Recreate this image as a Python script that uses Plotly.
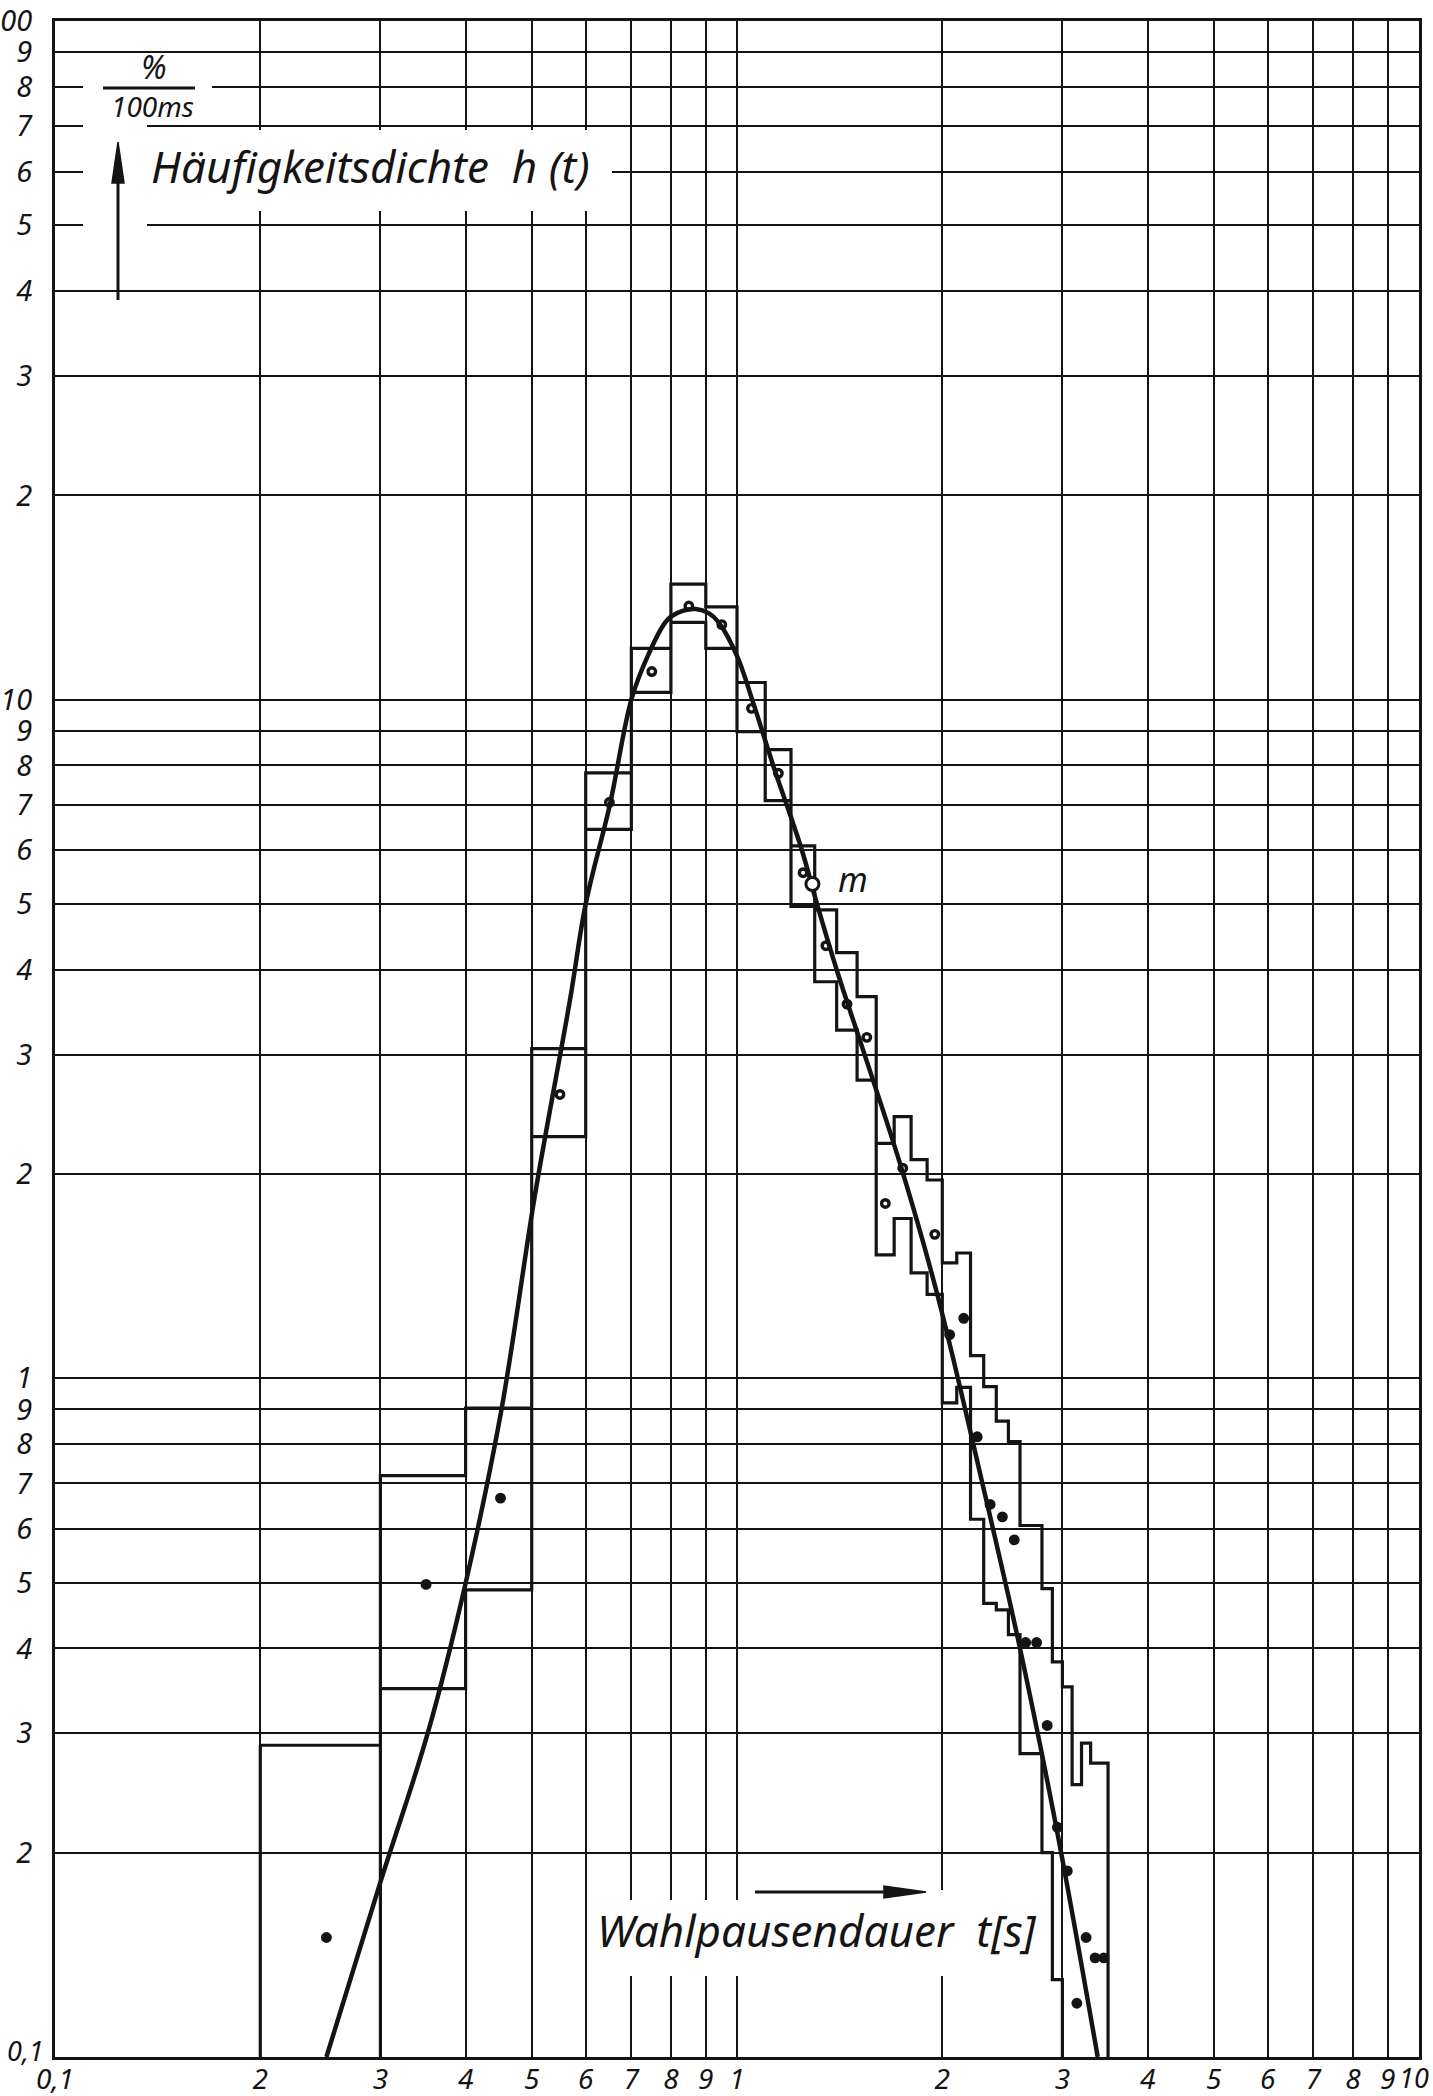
import plotly.graph_objects as go

# ---------------------------------------------------------------------------
# Data: dialling-pause durations t [s], frequency density h(t) [% / 100 ms]
# ---------------------------------------------------------------------------

# 100 ms classes: left edge of each class (s)
bin_left = [0.2, 0.3, 0.4, 0.5, 0.6, 0.7, 0.8, 0.9, 1.0, 1.1, 1.2, 1.3, 1.4,
            1.5, 1.6, 1.7, 1.8, 1.9, 2.0, 2.1, 2.2, 2.3, 2.4, 2.5, 2.6, 2.7,
            2.8, 2.9, 3.0, 3.1, 3.2, 3.3, 3.4]
bin_width = 0.1

# upper and lower limits of each class (lower limits of the outermost
# classes lie below the 0.1 floor of the chart)
bin_upper = [0.288, 0.719, 0.904, 3.06, 7.80, 11.9, 14.8, 13.7, 10.6, 8.44,
             6.09, 4.90, 4.24, 3.65, 2.22, 2.43, 2.10, 1.96, 1.48, 1.53,
             1.08, 0.972, 0.865, 0.807, 0.607, 0.607, 0.49, 0.382, 0.351,
             0.252, 0.29, 0.271, 0.271]
bin_lower = [0.05, 0.349, 0.488, 2.27, 6.44, 10.25, 13.0, 11.9, 8.97, 7.10,
             4.96, 3.84, 3.26, 2.75, 1.52, 1.72, 1.43, 1.33, 0.92, 0.97,
             0.62, 0.466, 0.456, 0.419, 0.28, 0.28, 0.20, 0.13, 0.05,
             0.05, 0.05, 0.05, 0.05]

# measured values at the class centres
dot_t = [0.25, 0.35, 0.45, 0.55, 0.65, 0.75, 0.85, 0.95, 1.05, 1.15, 1.25,
         1.35, 1.45, 1.55, 1.65, 1.75, 1.95, 2.05, 2.15, 2.25, 2.35, 2.45,
         2.55, 2.65, 2.75, 2.85, 2.95, 3.05, 3.15, 3.25, 3.35, 3.45]
dot_h = [0.150, 0.497, 0.666, 2.62, 7.06, 11.0, 13.74, 12.9, 9.71, 7.79,
         5.56, 4.34, 3.56, 3.18, 1.81, 2.04, 1.63, 1.16, 1.226, 0.82,
         0.652, 0.625, 0.578, 0.408, 0.408, 0.308, 0.218, 0.188, 0.120,
         0.150, 0.140, 0.140]

# fitted density curve
curve_t = [0.25, 0.30, 0.352, 0.40, 0.451, 0.506, 0.569, 0.60, 0.651,
           0.70, 0.74, 0.79, 0.83, 0.87, 0.91, 0.94, 1.0, 1.056, 1.13,
           1.245, 1.31, 1.40, 1.53, 1.745, 1.97, 2.29, 2.60, 2.96, 3.38]
curve_h = [0.1, 0.181, 0.30, 0.499, 0.894, 1.873, 3.61, 5.0, 7.0,
           10.0, 11.6, 13.1, 13.5, 13.6, 13.4, 13.0, 11.6, 9.9, 8.0,
           6.0, 5.0, 4.0, 3.05, 2.03, 1.32, 0.70, 0.40, 0.21, 0.10]

# mean value m
mean_t = [1.29]
mean_h = [5.35]

# log-paper rulings and their labels (the corner labels 0,1 of the ordinate
# and 10 of the abscissa are lettered separately to stay inside the sheet)
x_grid = [0.1, 0.2, 0.3, 0.4, 0.5, 0.6, 0.7, 0.8, 0.9,
          1, 2, 3, 4, 5, 6, 7, 8, 9, 10]
x_labels = ["0,1", "2", "3", "4", "5", "6", "7", "8", "9",
            "1", "2", "3", "4", "5", "6", "7", "8", "9", ""]
y_grid = [0.1, 0.2, 0.3, 0.4, 0.5, 0.6, 0.7, 0.8, 0.9,
          1, 2, 3, 4, 5, 6, 7, 8, 9,
          10, 20, 30, 40, 50, 60, 70, 80, 90, 100]
y_labels = ["", "2", "3", "4", "5", "6", "7", "8", "9",
            "1", "2", "3", "4", "5", "6", "7", "8", "9",
            "10", "2", "3", "4", "5", "6", "7", "8", "9", "100"]

# ---------------------------------------------------------------------------
INK = "#141414"
FONT = "Noto Sans"
W, H = 1433, 2096
L, R, T, B = 55, 14, 21, 39


def fx(px):
    """pixel column -> paper x"""
    return (px - L) / (W - L - R)


def fy(py):
    """pixel row -> paper y"""
    return (H - B - py) / (H - T - B)


# band outline: upper staircase left to right, lower staircase back
band_x, band_y = [], []
for left, hi in zip(bin_left, bin_upper):
    band_x += [left, left + bin_width]
    band_y += [hi, hi]
for left, lo in reversed(list(zip(bin_left, bin_lower))):
    band_x += [left + bin_width, left]
    band_y += [lo, lo]
band_x.append(band_x[0])
band_y.append(band_y[0])

fig = go.Figure()

fig.add_trace(go.Scatter(
    x=band_x, y=band_y, mode="lines",
    line=dict(color=INK, width=3.2), hoverinfo="skip"))

fig.add_trace(go.Scatter(
    x=curve_t, y=curve_h, mode="lines", line_shape="spline",
    line=dict(color=INK, width=4.5, smoothing=1.0), hoverinfo="skip"))

symbols = ["circle-open" if 0.5 < t < 2.0 else "circle" for t in dot_t]
fig.add_trace(go.Scatter(
    x=dot_t, y=dot_h, mode="markers",
    marker=dict(symbol=symbols, size=7.5, color=INK,
                line=dict(color=INK, width=3.4))))

fig.add_trace(go.Scatter(
    x=mean_t, y=mean_h, mode="markers",
    marker=dict(symbol="circle", size=13, color="white",
                line=dict(color=INK, width=3))))

axis_common = dict(
    type="log", showgrid=True, gridcolor=INK, gridwidth=2.4,
    showline=True, linecolor=INK, linewidth=3, mirror=True,
    ticks="", zeroline=False, tickmode="array", automargin=False,
)
fig.update_xaxes(
    range=[-1, 1], tickvals=x_grid, ticktext=x_labels,
    tickfont=dict(family=FONT, size=28, color=INK, style="italic"),
    ticklabelstandoff=-5, **axis_common)
fig.update_yaxes(
    range=[-1, 2], tickvals=y_grid, ticktext=y_labels,
    tickfont=dict(family=FONT, size=29, color=INK, style="italic"),
    ticklabelstandoff=14, **axis_common)

# white patches where the lettering interrupts the rulings
masks = [
    (83, 118, 147, 232),     # vertical arrow
    (147, 130, 612, 211),    # ordinate caption
    (83, 80, 212, 95),       # unit fraction
    (592, 1900, 1040, 1976), # abscissa caption
    (930, 1890, 955, 1900),
]
shapes = []
for x0, y0, x1, y1 in masks:
    shapes.append(dict(type="rect", xref="paper", yref="paper",
                       x0=fx(x0), x1=fx(x1), y0=fy(y1), y1=fy(y0),
                       fillcolor="white", line=dict(width=0),
                       layer="above"))


def seg(x0, y0, x1, y1, w=3):
    return dict(type="line", xref="paper", yref="paper",
                x0=fx(x0), y0=fy(y0), x1=fx(x1), y1=fy(y1),
                line=dict(color=INK, width=w), layer="above")


def tri(pts):
    p = "M " + " L ".join(f"{fx(a):.5f},{fy(b):.5f}" for a, b in pts) + " Z"
    return dict(type="path", xref="paper", yref="paper", path=p,
                fillcolor=INK, line=dict(color=INK, width=1.5),
                layer="above")


shapes += [
    seg(103, 88, 195, 88),                       # fraction bar
    seg(118, 300, 118, 182),                     # ordinate arrow shaft
    tri([(118, 142), (112, 183), (124, 183)]),   # ordinate arrow head
    seg(755, 1892, 888, 1892),                   # abscissa arrow shaft
    tri([(926, 1892), (884, 1886), (884, 1898)]),
]
fig.update_layout(shapes=shapes)


def label(text, px, py, size):
    fig.add_annotation(
        text=text, xref="paper", yref="paper", x=fx(px), y=fy(py),
        xanchor="center", yanchor="middle", showarrow=False,
        font=dict(family=FONT, size=size, color=INK, style="italic"))


label("%", 154, 66, 32)
label("100ms", 152, 106, 28)
label("Häufigkeitsdichte  h (t)", 370, 166, 44)
label("Wahlpausendauer  t[s]", 817, 1930, 44)
label("m", 853, 879, 34)
label("10", 1414, 2077, 27)
label("0,1", 25, 2050, 27)

fig.update_layout(
    width=W, height=H,
    margin=dict(l=L, r=R, t=T, b=B, pad=0),
    paper_bgcolor="white", plot_bgcolor="white",
    showlegend=False,
)

fig.write_html("out.html")
